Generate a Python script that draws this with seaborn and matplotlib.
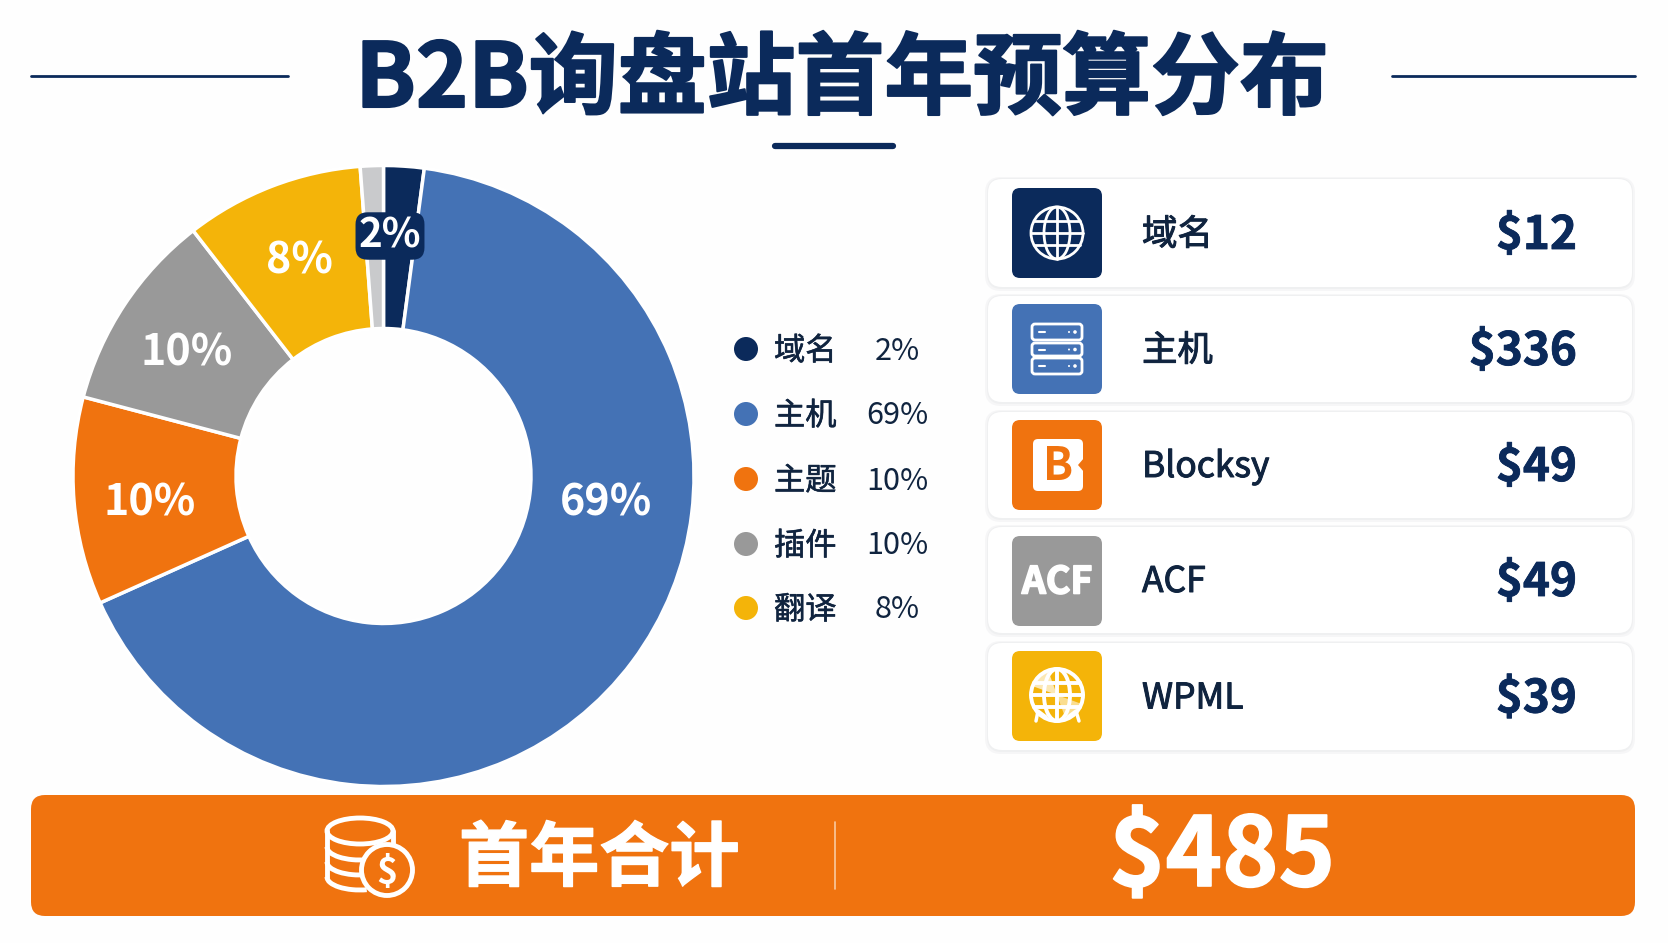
import matplotlib
matplotlib.use("Agg")
import matplotlib.pyplot as plt
import matplotlib.patheffects as pe
from matplotlib.patches import Arc, Circle, Ellipse, FancyBboxPatch, Polygon, Wedge
import seaborn as sns

title = "B2B询盘站首年预算分布"
slice_names = ["域名", "主机", "主题", "插件", "翻译", "其他"]
slice_shares = [2.1, 66.2, 10.8, 10.4, 9.3, 1.2]
slice_colors = ["#0B2A5B", "#4472B5", "#F0730F", "#999999", "#F4B409", "#C9CACC"]
legend_names = ["域名", "主机", "主题", "插件", "翻译"]
legend_pcts = ["2%", "69%", "10%", "10%", "8%"]
card_names = ["域名", "主机", "Blocksy", "ACF", "WPML"]
card_prices = ["$12", "$336", "$49", "$49", "$39"]
total_label = "首年合计"
total_price = "$485"

NAVY = "#0B2A5B"
INK = "#10243F"
ORANGE = "#F0730F"

sns.set_theme(style="white")
plt.rcParams["font.family"] = ["Noto Sans CJK SC", "DejaVu Sans"]
palette = sns.color_palette(slice_colors)

W, H = 1668, 943
fig = plt.figure(figsize=(W / 100, H / 100), dpi=100, facecolor="#FEFEFE")

# donut, in its own axes
cx, cy, R = 383.5, 476, 310.5
pie_ax = fig.add_axes([(cx - R) / W, 1 - (cy + R) / H, 2 * R / W, 2 * R / H])
pie_ax.pie(slice_shares, colors=palette, startangle=90, counterclock=False, radius=1,
           wedgeprops=dict(width=0.525, edgecolor="white", linewidth=2.5))
pie_ax.set_xlim(-1, 1)
pie_ax.set_ylim(-1, 1)
pie_ax.axis("off")

# everything else in pixel coordinates
ax = fig.add_axes([0, 0, 1, 1], facecolor="none")
ax.set_xlim(0, W)
ax.set_ylim(H, 0)
ax.axis("off")


def rbox(x0, y0, x1, y1, r, color, z=2):
    p = FancyBboxPatch((x0 + r, y0 + r), x1 - x0 - 2 * r, y1 - y0 - 2 * r,
                       boxstyle=f"round,pad={r},rounding_size={r}", fc=color, ec="none", zorder=z)
    ax.add_patch(p)
    return p


def heavy(width, color):
    return [pe.withStroke(linewidth=width, foreground=color)]


# title
ax.text(842, 81, title, ha="center", va="center", fontsize=64, fontweight="bold", color=NAVY,
        path_effects=heavy(1.5, NAVY))
ax.plot([31, 288], [76, 76], color=NAVY, lw=2)
ax.plot([1392, 1635], [76, 76], color=NAVY, lw=2)
ax.plot([775, 893], [146, 146], color=NAVY, lw=4.5, solid_capstyle="round")

# ring labels
ring_pos = [(390, 236), (606, 502), (150, 502), (187, 353), (299, 260)]
ring_sizes = [29, 31, 31, 31, 31]
for i, (x, y) in enumerate(ring_pos):
    kw = {}
    if i == 0:
        kw["bbox"] = dict(boxstyle="round,pad=0.08,rounding_size=0.3", fc=NAVY, ec="none")
    ax.text(x, y, legend_pcts[i], ha="center", va="center", fontsize=ring_sizes[i], fontweight="bold",
            color="white", zorder=5, **kw)

# legend
legend_y = [349, 414, 479, 544, 608]
for i, y in enumerate(legend_y):
    ax.add_patch(Circle((746, y), 12, fc=palette[i], ec="none", zorder=3))
    ax.text(774, y + 2, legend_names[i], ha="left", va="center", fontsize=22.5, color=INK, zorder=3,
            path_effects=heavy(0.4, INK))
    ax.text(897, y + 2, legend_pcts[i], ha="center", va="center", fontsize=22, color=INK, zorder=3)

# cards
card_top = [179, 296, 412, 527, 643]
card_bot = [287, 402, 518, 633, 750]
icon_top = [188, 304, 420, 536, 651]
for i in range(5):
    rbox(985, card_top[i] - 2, 1635, card_bot[i] + 4, 16, "#F6F6F7", z=1)
    rbox(987, card_top[i] - 1, 1633, card_bot[i] + 2, 15, "#EFF0F1", z=1.1)
    rbox(988, card_top[i], 1632, card_bot[i], 14, "white", z=2)
    rbox(1012, icon_top[i], 1102, icon_top[i] + 90, 8, slice_colors[i], z=3)
    mid = (card_top[i] + card_bot[i]) / 2
    ax.text(1142, mid + 2, card_names[i], ha="left", va="center", fontsize=25.5, color=INK, zorder=3,
            path_effects=heavy(0.7, INK))
    ax.text(1577, mid + 3, card_prices[i], ha="right", va="center", fontsize=33, fontweight="bold",
            color=NAVY, zorder=3, path_effects=heavy(0.6, NAVY))


def globe(x, y, r, lw=2):
    s = dict(fc="none", ec="white", lw=lw, zorder=4)
    ax.add_patch(Circle((x, y), r, **s))
    ax.add_patch(Ellipse((x, y), r, 2 * r, **s))
    ax.plot([x, x], [y - r, y + r], color="white", lw=lw, zorder=4)
    for dy, half in [(0, 1), (-0.48, 0.88), (0.48, 0.88)]:
        ax.plot([x - half * r, x + half * r], [y + dy * r, y + dy * r], color="white", lw=lw, zorder=4)


# domain icon
globe(1057, 233, 26)

# server icon
for y, h in [(332, 8), (349.5, 6.5), (366, 8)]:
    p = rbox(1032, y - h, 1082, y + h, 3, "none", z=4)
    p.set_edgecolor("white")
    p.set_linewidth(2)
    ax.plot([1039, 1045], [y, y], color="white", lw=1.5, zorder=4)
    ax.add_patch(Circle((1075, y), 1.8, fc="white", ec="none", zorder=4))
    ax.add_patch(Circle((1069, y), 1, fc="white", ec="none", zorder=4))

# blocksy icon
rbox(1033, 439, 1083, 491, 5, "white", z=4)
ax.add_patch(Polygon([[1084, 458], [1078, 465], [1084, 472]], fc=ORANGE, ec="none", zorder=4.1))
ax.text(1058, 467, "B", ha="center", va="center", fontsize=32, fontweight="bold", color=ORANGE, zorder=5)

# acf icon
ax.text(1057, 582, "ACF", ha="center", va="center", fontsize=27, fontweight="bold", color="white",
        zorder=4, path_effects=heavy(1.2, "white"))

# wpml icon
globe(1057, 695, 26, lw=2.8)
ax.add_patch(Wedge((1057, 695), 26, 200, 250, fc="white", ec="none", zorder=4, alpha=0.7))
ax.add_patch(Wedge((1057, 695), 26, 20, 70, fc="white", ec="none", zorder=4, alpha=0.55))
ax.plot([1036, 1038, 1046], [721, 711, 717], color="white", lw=2.5, zorder=4)
ax.plot([1079, 1076, 1068], [721, 711, 717], color="white", lw=2.5, zorder=4)

# total bar
rbox(31, 795, 1635, 916, 14, ORANGE, z=2)
ax.text(459, 860, total_label, ha="left", va="center", fontsize=50.5, fontweight="bold", color="white",
        zorder=3, path_effects=heavy(1, "white"))
ax.plot([835, 835], [822, 889], color="#F9C9A0", lw=1.2, zorder=3)
ax.text(1222, 858, total_price, ha="center", va="center", fontsize=69, fontweight="bold", color="white",
        zorder=3, path_effects=heavy(1.2, "white"))

# coins icon
ax.add_patch(Ellipse((360, 831), 66, 26, fc="none", ec="white", lw=3.5, zorder=3))
ax.plot([327, 327], [831, 877], color="white", lw=3.5, zorder=3)
ax.plot([393, 393], [831, 848], color="white", lw=3.5, zorder=3)
for y in [847, 862, 877]:
    ax.add_patch(Arc((360, y), 66, 26, theta1=62, theta2=180, ec="white", lw=3.5, zorder=3))
ax.add_patch(Circle((387, 870), 25.5, fc=ORANGE, ec="white", lw=3.5, zorder=3.3))
ax.text(387, 872, "$", ha="center", va="center", fontsize=26, fontweight="bold", color="white", zorder=3.4)

fig.savefig("out.png", dpi=100, facecolor=fig.get_facecolor())
